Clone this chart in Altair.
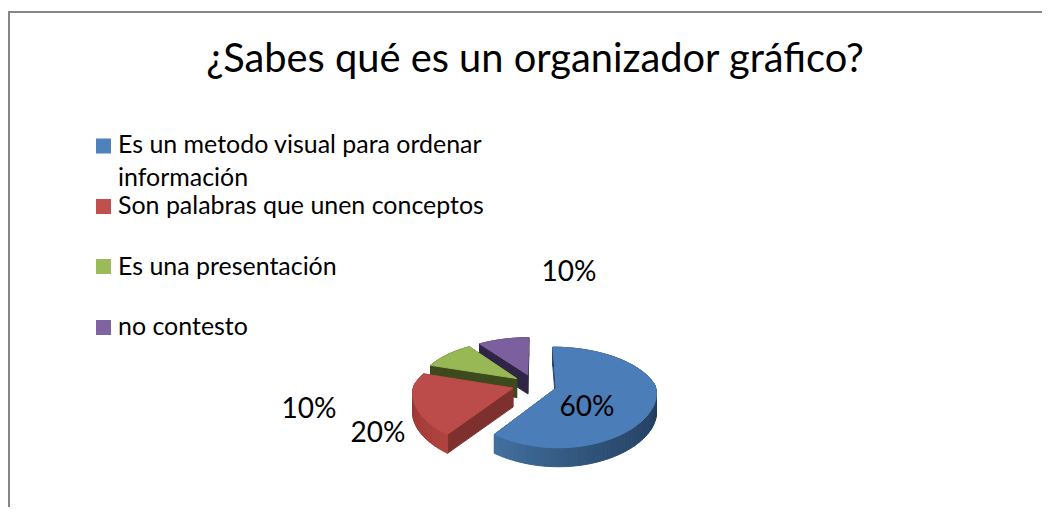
import math
import altair as alt

TITLE = "¿Sabes qué es un organizador gráfico?"
CATEGORIES = ["Es un metodo visual para ordenar\ninformación", "Son palabras que unen conceptos",
              "Es una presentación", "no contesto"]
VALUES = [60, 20, 10, 10]
COLORS = ["#4F81BD", "#C0504D", "#9BBB59", "#8064A2"]
TOPS = ["#4b7db8", "#bb4c49", "#97b855", "#7c5f9e"]
WALLS = ["#2a4a70", "#7d302e", "#3d4a1e", "#312545"]
# rim shading stops along each slice, clockwise from its start
RIM_STOPS = [["#1d3450", "#1c3450", "#243f60", "#2f5277", "#42709f"],
             ["#b0433f", "#a03b38", "#8a3331"],
             ["#3d4a1e", "#3d4a1e"],
             ["#312545", "#312545"]]

LABEL_POS = [(587, 408), (378, 434), (309, 410), (569, 273)]
LEGEND_SQUARE_Y = [146, 206.5, 266.5, 327.5]
LEGEND_BASE_Y = [153, 214, 275, 335]

# view of the tilted pie (page pixels)
CX, CY, RX, RY, PERSP, EXPLODE, DEPTH = 534.5, 384.7, 99, 47.3, 0.184, 0.228, 19
M = 8  # page margin


def project(u, v, drop=0):
    f = 1 / (1 - PERSP * v)
    fx = f if v < 0 else f ** 0.5
    return [CX + RX * u * fx - M, CY + RY * v * f + drop - M]


def stop_color(stops, t):
    pos = t * (len(stops) - 1)
    j = min(int(pos), len(stops) - 2)
    a, b = stops[j], stops[j + 1]
    ca = [int(a[i:i + 2], 16) for i in (1, 3, 5)]
    cb = [int(b[i:i + 2], 16) for i in (1, 3, 5)]
    return "#%02x%02x%02x" % tuple(round(x + (y - x) * (pos - j)) for x, y in zip(ca, cb))


def feature(points, fill):
    ring = points + [points[0]]
    return {"type": "Feature", "properties": {"fill": fill},
            "geometry": {"type": "Polygon", "coordinates": [ring]}}


features = []
starts, acc = [], 0
for v in VALUES:
    starts.append(acc)
    acc += v
total = acc

for i in reversed(range(len(VALUES))):
    a0 = starts[i] / total * 2 * math.pi
    a1 = (starts[i] + VALUES[i]) / total * 2 * math.pi
    mid = (a0 + a1) / 2
    du, dv = EXPLODE * math.sin(mid), -EXPLODE * math.cos(mid)
    n = max(8, int(VALUES[i] * 1.5))
    rim = [(du + math.sin(a0 + (a1 - a0) * k / n), dv - math.cos(a0 + (a1 - a0) * k / n)) for k in range(n + 1)]
    # radial walls
    for (ru, rv) in (rim[0], rim[-1]):
        features.append(feature([project(du, dv), project(ru, rv), project(ru, rv, DEPTH), project(du, dv, DEPTH)], WALLS[i]))
    # rim wall, shaded strip by strip
    for k in range(n):
        c = stop_color(RIM_STOPS[i], k / (n - 1))
        p, q = rim[k], rim[k + 1]
        features.append(feature([project(*p), project(*q), project(*q, DEPTH), project(*p, DEPTH)], c))
    # top face
    features.append(feature([project(du, dv)] + [project(*p) for p in rim], TOPS[i]))

pie = alt.Chart(alt.Data(values=features)).mark_geoshape(strokeWidth=1).encode(
    fill=alt.Fill("properties.fill:N", scale=None),
    stroke=alt.Stroke("properties.fill:N", scale=None),
).project(type="identity", scale=1, translate=[0, 0])

frame_left = alt.Chart(alt.Data(values=[{"a": 1}])).mark_rule(color="#868686", strokeWidth=2).encode(
    x=alt.value(1), y=alt.value(3), y2=alt.value(499))
frame_top = alt.Chart(alt.Data(values=[{"a": 1}])).mark_rule(color="#868686", strokeWidth=2).encode(
    x=alt.value(0), x2=alt.value(1034), y=alt.value(4))

layers = [frame_left, frame_top, pie]

for value, (lx, ly) in zip(VALUES, LABEL_POS):
    layers.append(alt.Chart(alt.Data(values=[{"t": f"{value}%"}])).mark_text(
        font="Lato", fontSize=28, color="#000000", align="center", baseline="middle"
    ).encode(text="t:N", x=alt.value(lx - M), y=alt.value(ly - M)))

color = alt.Color("label:N", scale=alt.Scale(domain=CATEGORIES, range=COLORS), legend=None)
for cat, sy, by in zip(CATEGORIES, LEGEND_SQUARE_Y, LEGEND_BASE_Y):
    row = alt.Data(values=[{"label": cat}])
    layers.append(alt.Chart(row).mark_square(size=225, opacity=1, filled=True).encode(
        color=color, x=alt.value(103.5 - M), y=alt.value(sy - M)))
    layers.append(alt.Chart(row).mark_text(
        font="Lato", fontSize=24.95, color="#000000", align="left", baseline="alphabetic",
        lineBreak="\n", lineHeight=33
    ).encode(text="label:N", x=alt.value(118 - M), y=alt.value(by - M)))

chart = alt.layer(*layers).properties(
    width=1034, height=499, padding=0,
    autosize=alt.AutoSizeParams(type="none"),
    background="#ffffff",
    title=alt.TitleParams(TITLE, font="Lato", fontSize=39.8, fontWeight="normal", color="#000000",
                          anchor="middle", frame="group", offset=-73, dx=10),
).configure_view(stroke=None)

chart.save("out.html", embed_options={"renderer": "svg", "actions": False})
